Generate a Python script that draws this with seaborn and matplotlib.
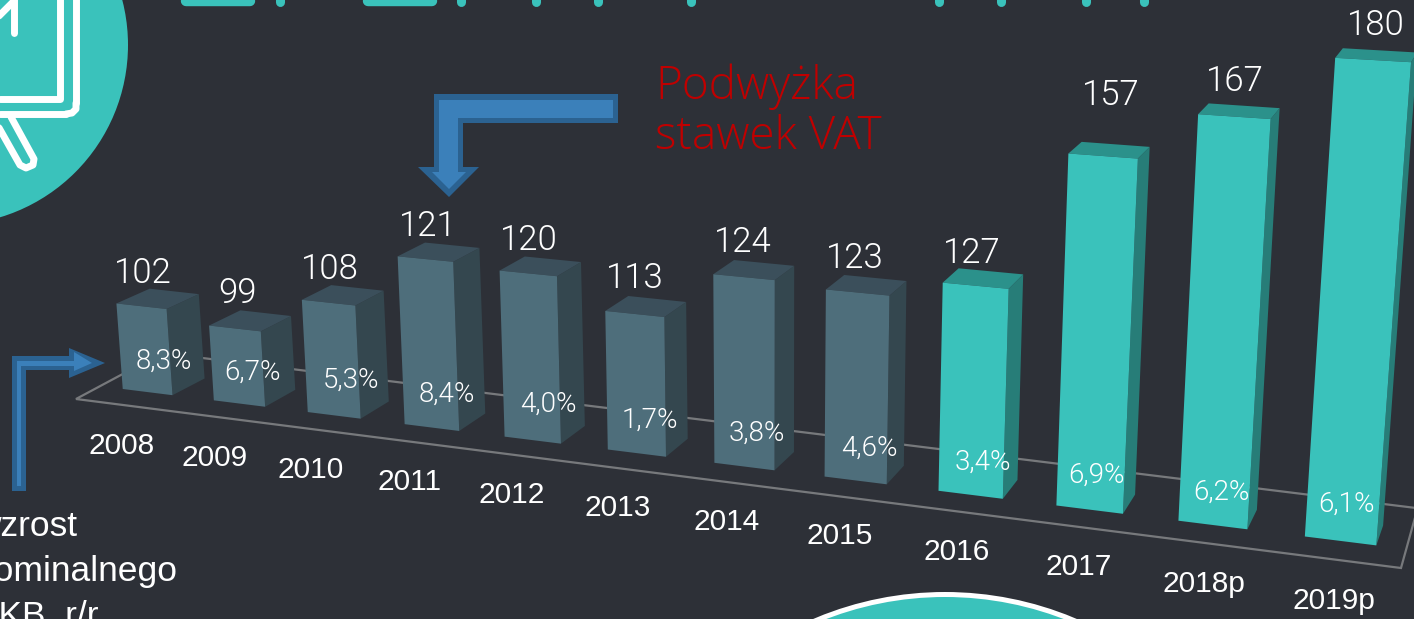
import numpy as np
import pandas as pd
import matplotlib
matplotlib.use('Agg')
import matplotlib.pyplot as plt
import seaborn as sns
from matplotlib.patches import Polygon, Circle
from matplotlib.transforms import Transform

# chart data
years = ['2008', '2009', '2010', '2011', '2012', '2013', '2014', '2015', '2016', '2017', '2018p', '2019p']
values = [102, 99, 108, 121, 120, 113, 124, 123, 127, 157, 167, 180]
growth = ['8,3%', '6,7%', '5,3%', '8,4%', '4,0%', '1,7%', '3,8%', '4,6%', '3,4%', '6,9%', '6,2%', '6,1%']
period = ['old'] * 8 + ['new'] * 4

# layout: where the labels sit in the picture
value_pos = [(143, 273), (237, 293), (330, 269), (428, 226), (529, 240), (635, 278),
             (743, 242), (855, 258), (972, 253), (1111, 95), (1235, 81), (1376, 25)]
growth_pos = [(164, 361), (252, 372), (351, 380), (447, 394), (548, 404), (650, 420),
              (757, 433), (869, 448), (983, 462), (1097, 475), (1221, 492), (1346, 504)]
year_pos = [(122, 446), (215, 458), (311, 470), (410, 482), (512, 495), (618, 508),
            (727, 522), (840, 536), (957, 552), (1079, 567), (1204, 584), (1334, 601)]

BG = '#2d3037'
TEAL = '#3ac2bb'
FRONT = {'old': '#4e6e7b', 'new': TEAL}
SIDE = {'old': '#34474f', 'new': '#277d78'}
TOP = {'old': '#3b4f5b', 'new': '#2b918b'}
FLOOR_V = 80
BAR_W = 0.55

# camera: (bar position, value) -> picture pixel, fitted on a few bar corners
h = BAR_W / 2
calib = [
    ((0 - h, FLOOR_V), (123, 389)), ((0 + h, FLOOR_V), (172, 395)),
    ((0 - h, 102), (117, 305)), ((0 + h, 102), (166, 309)),
    ((4 - h, FLOOR_V), (505, 436)), ((4 + h, FLOOR_V), (560, 443)),
    ((4 - h, 120), (500, 270)), ((4 + h, 120), (557, 275)),
    ((8 - h, FLOOR_V), (939, 490)), ((8 + h, FLOOR_V), (1003, 498)),
    ((8 - h, 127), (943, 285)), ((8 + h, 127), (1008, 291)),
    ((10 - h, FLOOR_V), (1179, 521)), ((10 + h, FLOOR_V), (1247, 529)),
    ((10 - h, 167), (1199, 112)), ((10 + h, 167), (1270, 117)),
    ((11 - h, FLOOR_V), (1305, 537)), ((11 + h, FLOOR_V), (1376, 546)),
    ((11 - h, 180), (1336, 59)), ((11 + h, 180), (1410, 63)),
]
rows = []
for (x, v), (px, py) in calib:
    rows.append([x, v, 1, 0, 0, 0, -px * x, -px * v, -px])
    rows.append([0, 0, 0, x, v, 1, -py * x, -py * v, -py])
H = np.linalg.svd(np.array(rows, dtype=float))[2][-1].reshape(3, 3)


class Camera(Transform):
    input_dims = 2
    output_dims = 2
    is_separable = False

    def transform_non_affine(self, values):
        pts = np.asarray(values, dtype=float)
        full = np.column_stack([pts, np.ones(len(pts))]) @ H.T
        return full[:, :2] / full[:, 2:3]


camera = Camera()
VANISH = np.array([1700.0, -400.0])


def back(p):
    return p + 0.021 * (VANISH - p)


sns.set_theme(style='white')
plt.rcParams['font.family'] = ['Liberation Sans', 'DejaVu Sans']
fig = plt.figure(figsize=(14.14, 6.19), dpi=100, facecolor=BG)
ax_px = fig.add_axes([0, 0, 1, 1])
ax_px.set_xlim(0, 1414)
ax_px.set_ylim(619, 0)
ax_px.axis('off')

# top-left circle with the icon
ax_px.add_patch(Circle((-52, 45), 180, fc=TEAL, ec='none'))
white = dict(color='white', lw=5.0, solid_capstyle='round', solid_joinstyle='round')
ax_px.plot([60, 60, 0], [-5, 99, 99], **white)
ax_px.plot([76, 76], [-5, 103], **white)
ax_px.plot([66, 0], [114, 114], **white)
ax_px.plot([66, 72, 76, 76], [114, 113, 109, 103], **white)
ax_px.plot([14, 14], [-5, 33], **white)
ax_px.plot([-2, 14], [17, 1], **white)
ax_px.plot([11, 34, 33, 26, 20, -2], [117, 159, 165, 168, 165, 126], **white)

# bottom circle
ax_px.add_patch(Circle((945, 928), 333.5, fc=TEAL, ec='white', lw=3.6))

# what is left of the title at the top edge
for x0, x1 in [(186, 250), (368, 432)]:
    ax_px.plot([x0, x1], [1, 1], color=TEAL, lw=7.5, solid_capstyle='round')
for x0 in [280, 461, 536, 598, 691, 939, 1001, 1086, 1144]:
    ax_px.plot([x0, x0], [-6, 2], color=TEAL, lw=6.5, solid_capstyle='round')

# floor of the chart
grey = dict(color='#77797c', lw=1.6, solid_joinstyle='miter')
ax_px.plot([162, 76, 1401, 1416], [353, 399, 568, 514], **grey)
ax_px.plot([162, 1416], [353, 508], **grey)

# arrows
ax_px.add_patch(Polygon([(618, 94), (434, 94), (434, 167), (418, 167), (449, 197), (479, 167),
                         (463, 167), (463, 123), (618, 123)], fc='#2b6291', ec='none'))
ax_px.add_patch(Polygon([(613, 100), (439, 100), (439, 172), (432, 172), (449, 189), (466, 172),
                         (458, 172), (458, 118), (613, 118)], fc='#3b80ba', ec='none'))
ax_px.add_patch(Polygon([(12, 491), (12, 356), (69, 356), (69, 348), (105, 363), (69, 378),
                         (69, 370), (26, 370), (26, 491)], fc='#2b6291', ec='none'))
ax_px.add_patch(Polygon([(17, 486), (17, 361), (74, 361), (74, 352), (92, 363), (74, 371),
                         (74, 366), (21, 366), (21, 486)], fc='#3b80ba', ec='none'))

# bars, front faces from seaborn, drawn in the camera's perspective
ax = fig.add_axes([0, 0, 1, 1])
ax.patch.set_alpha(0)
df = pd.DataFrame({'year': years, 'value': values, 'period': period})
sns.barplot(data=df, x='year', y='value', hue='period', palette=FRONT, dodge=False,
            width=BAR_W, legend=False, saturation=1, ax=ax)
ax.axis('off')

bars = [b for b in ax.patches if b.get_height() > 0]
bars.sort(key=lambda b: b.get_x())
for bar, kind in zip(bars, period):
    x0 = bar.get_x()
    x1 = x0 + bar.get_width()
    top = bar.get_height()
    bar.set_y(FLOOR_V)
    bar.set_height(top - FLOOR_V)
    bar.set_transform(camera + ax_px.transData)
    bar.set_clip_on(False)
    bar.set_linewidth(0)
    tl, tr, br = camera.transform(np.array([[x0, top], [x1, top], [x1, FLOOR_V]]))
    ax_px.add_patch(Polygon([tr, br, back(br), back(tr)], fc=SIDE[kind], ec='none', zorder=3))
    ax_px.add_patch(Polygon([tl, tr, back(tr), back(tl)], fc=TOP[kind], ec='none', zorder=3))

# texts
light = dict(family=['Roboto', 'DejaVu Sans'], weight=300, color='white',
             ha='center', va='center', transform=ax_px.transData, clip_on=True)
for val, (x, y) in zip(values, value_pos):
    ax.text(x, y, str(val), fontsize=25, **light)
for txt, (x, y) in zip(growth, growth_pos):
    ax.text(x, y, txt, fontsize=20, **light)
for yr, (x, y) in zip(years, year_pos):
    ax.text(x, y, yr, fontsize=21.5, color='white', ha='center', va='center',
            transform=ax_px.transData)

red = dict(family=['Open Sans', 'DejaVu Sans'], weight=300, color='#c00000', ha='left',
           va='baseline', fontsize=33, transform=ax_px.transData)
ax.text(655, 99, 'Podwyżka', **red)
ax.text(655, 149, 'stawek VAT', **red)

for txt, y in zip(['wzrost', 'nominalnego', 'PKB, r/r'], [536, 581, 626]):
    ax.text(-25, y, txt, fontsize=25.5, color='white', ha='left', va='baseline',
            transform=ax_px.transData)

fig.savefig('out.png', dpi=100, facecolor=BG)
